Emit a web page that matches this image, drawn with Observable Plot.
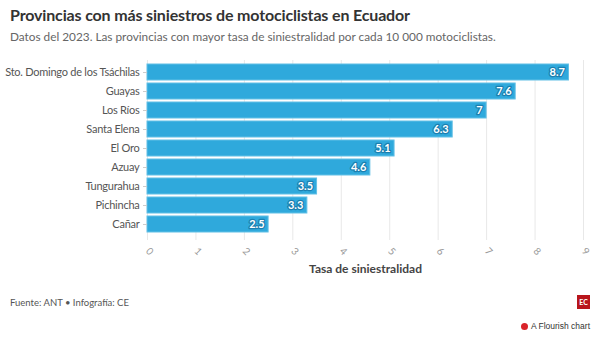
<!DOCTYPE html>
<html>
<head>
<meta charset="utf-8">
<script src="https://cdn.jsdelivr.net/npm/d3@7"></script>
<script src="https://cdn.jsdelivr.net/npm/@observablehq/plot@0.6"></script>
<style>
  body { margin: 0; background: #fff; font-family: Lato, "Open Sans", sans-serif; width: 600px; height: 339px; overflow: hidden; position: relative; }
  .title { position: absolute; left: 10px; top: 5px; font-size: 16px; font-weight: bold; color: #333; letter-spacing: -0.15px; }
  .subtitle { position: absolute; left: 10px; top: 29px; font-size: 11.8px; color: #666; }
  #chart { position: absolute; left: 0; top: 55px; }
  #chart svg g[aria-label="y-axis tick label"] text { letter-spacing: -0.25px; }
  .source { position: absolute; left: 10px; top: 297px; font-size: 9.5px; color: #555; }
  .logo { position: absolute; left: 577px; top: 295px; width: 13px; height: 14px; background: #b8151b; color: #fff; font-size: 7px; font-weight: bold; text-align: center; line-height: 14px; }
  .flourish { position: absolute; right: 10px; top: 321px; font-size: 8.5px; color: #333; font-family: Arial, sans-serif; }
  .flourish .dot { display: inline-block; width: 7px; height: 7px; background: #d9232a; border-radius: 50%; margin-right: 3px; vertical-align: -1px; }
</style>
</head>
<body>
<div class="title">Provincias con más siniestros de motociclistas en Ecuador</div>
<div class="subtitle">Datos del 2023. Las provincias con mayor tasa de siniestralidad por cada 10 000 motociclistas.</div>
<div id="chart"></div>
<div class="source">Fuente: ANT • Infografía: CE</div>
<div class="logo">EC</div>
<div class="flourish"><span class="dot"></span>A Flourish chart</div>
<script>
const provincias = ["Sto. Domingo de los Tsáchilas", "Guayas", "Los Ríos", "Santa Elena", "El Oro", "Azuay", "Tungurahua", "Pichincha", "Cañar"];
const tasas = [8.7, 7.6, 7, 6.3, 5.1, 4.6, 3.5, 3.3, 2.5];
const xTicks = [0, 1, 2, 3, 4, 5, 6, 7, 8, 9];
const xLabel = "Tasa de siniestralidad";

const data = provincias.map((p, i) => ({provincia: p, tasa: tasas[i]}));

const chart = Plot.plot({
  width: 600,
  height: 230,
  marginTop: 5,
  marginLeft: 147,
  marginRight: 17,
  marginBottom: 49,
  style: {fontFamily: "Lato, 'Open Sans', sans-serif", fontSize: "11px", color: "#555", background: "transparent"},
  x: {domain: [0, 9]},
  y: {domain: provincias, padding: 0.16},
  marks: [
    Plot.ruleX(xTicks, {stroke: "#e8e8e8", strokeWidth: 1, insetBottom: -4}),
    Plot.barX(data, {x: "tasa", y: "provincia", fill: "#2fa9dc", stroke: "#63c0e6", strokeWidth: 1}),
    Plot.text(data, {x: "tasa", y: "provincia", text: d => String(d.tasa), textAnchor: "end", dx: -4, fill: "#fff", fontWeight: "bold", fontSize: 11, stroke: "#1b7fb0", strokeWidth: 2.5, paintOrder: "stroke"}),
    Plot.ruleY([0], {frameAnchor: "bottom", stroke: "#e8e8e8", dy: 4}),
    Plot.axisY({label: null, tickSize: 4, tickPadding: 4, stroke: "#ccc", fontSize: 11, fill: "#555"}),
    Plot.axisX({ticks: xTicks, tickSize: 0, tickRotate: 45, tickPadding: 13, fontSize: 10, fill: "#999", label: null}),
    Plot.text([xLabel], {frameAnchor: "bottom", dy: 36, fontWeight: "bold", fontSize: 12, fill: "#444"})
  ]
});
document.getElementById("chart").appendChild(chart);
</script>
</body>
</html>
